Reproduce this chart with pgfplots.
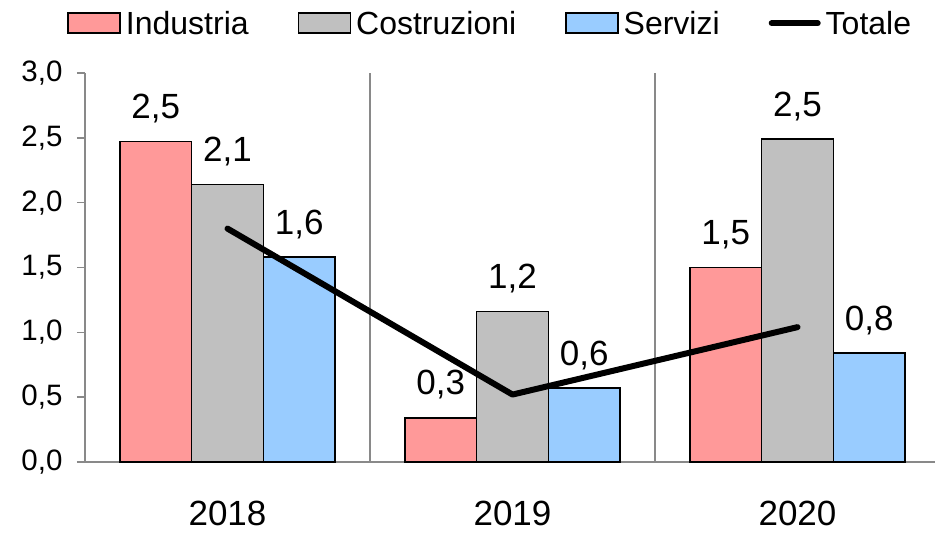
\documentclass[border=0pt]{standalone}
\usepackage{pgfplots}
\pgfplotsset{compat=1.18}
\usepackage{fontspec}
\setmainfont{Liberation Sans}
\definecolor{cInd}{RGB}{255,153,153}
\definecolor{cCos}{RGB}{192,192,192}
\definecolor{cSer}{RGB}{153,204,255}
\definecolor{cAx}{RGB}{137,137,137}
\pgfplotsset{
  rectleg/.style={legend image code/.code={\draw[##1] (0bp,-10bp) rectangle (52bp,10bp);}},
  lineleg/.style={legend image code/.code={\draw[##1, line cap=round] (0bp,0bp) -- (46bp,0bp);}},
}
\begin{document}
\begin{tikzpicture}
\path[use as bounding box] (-85bp,-72bp) rectangle (850bp,462bp);
\begin{axis}[
  at={(0,0)}, anchor=south west,
  scale only axis,
  width=855bp, height=389bp,
  xmin=-0.5, xmax=2.5,
  ymin=0, ymax=3,
  axis x line*=bottom, axis y line*=left,
  axis line style={cAx, line width=1.5bp},
  ytick={0,0.5,...,3},
  yticklabel style={/pgf/number format/.cd, fixed, fixed zerofill, precision=1, use comma, /tikz/.cd, font=\fontsize{29.5bp}{34bp}\selectfont, xshift=-11bp},
  /pgf/number format/assume math mode=true,
  ytick style={cAx, line width=1.5bp},
  tick align=outside,
  major tick length=8bp,
  xtick={0,1,2},
  xticklabels={2018,2019,2020},
  x tick style={draw=none},
  xticklabel style={font=\fontsize{35bp}{40bp}\selectfont, yshift=-28bp},
  extra x ticks={-0.5,0.5,1.5,2.5},
  extra x tick labels={},
  extra x tick style={grid=major, major grid style={cAx, line width=1.5bp}, major tick length=11bp, tick style={cAx, line width=1.5bp}},
  legend columns=4,
  legend style={at={(0.474,1.128)}, anchor=center, draw=none, fill=none, font=\fontsize{32bp}{36bp}\selectfont, inner sep=0pt,
    /tikz/every even column/.append style={column sep=47bp},
    /tikz/every odd column/.append style={column sep=3bp}},
  legend cell align=left,
  nodes near coords,
  nodes near coords style={font=\fontsize{35bp}{40bp}\selectfont, anchor=center, yshift=33bp, /pgf/number format/.cd, fixed, fixed zerofill, precision=1, use comma, /tikz/.cd},
]
\addplot[ybar, bar width=0.252, bar shift=-0.252, fill=cInd, draw=black, line width=1.5bp, rectleg,
  every node near coord/.append style={xshift=-71.8bp}]
  coordinates {(0,2.47) (1,0.34) (2,1.50)};
\addlegendentry{Industria}
\addplot[ybar, bar width=0.252, bar shift=0, fill=cCos, draw=black, line width=1.5bp, rectleg]
  coordinates {(0,2.14) (1,1.16) (2,2.49)};
\addlegendentry{Costruzioni}
\addplot[ybar, bar width=0.252, bar shift=0.252, fill=cSer, draw=black, line width=1.5bp, rectleg,
  every node near coord/.append style={xshift=71.8bp}]
  coordinates {(0,1.58) (1,0.57) (2,0.84)};
\addlegendentry{Servizi}
\addplot[black, line width=6bp, line cap=round, line join=round, mark=none, nodes near coords=, lineleg]
  coordinates {(0,1.80) (1,0.52) (2,1.04)};
\addlegendentry{Totale}
\end{axis}
\end{tikzpicture}
\end{document}
